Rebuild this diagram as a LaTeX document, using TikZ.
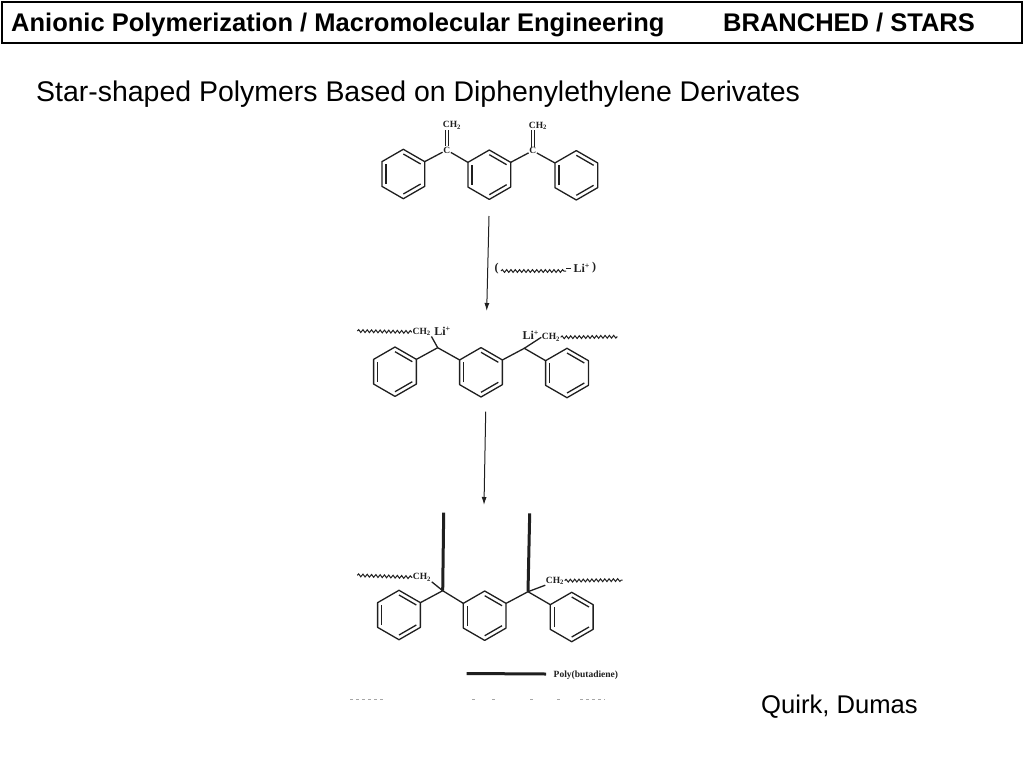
\documentclass[tikz,border=0pt]{standalone}
\usepackage{fontspec}
\setmainfont{Liberation Sans}
\newfontfamily\chemfont{Liberation Serif}
\usetikzlibrary{arrows.meta, calc, decorations.pathmorphing, positioning}
\definecolor{Ink}{gray}{0.12}
\tikzset{%
  header/.style={%
    anchor=base west,%
    inner sep=0pt,%
    font={\fontsize{25.5}{25.5}\selectfont\bfseries},%
  },
  heading/.style={%
    anchor=base west,%
    inner sep=0pt,%
    font={\fontsize{28.45}{28.45}\selectfont},%
  },
  credit/.style={%
    anchor=base west,%
    inner sep=0pt,%
    font={\fontsize{25.6}{25.6}\selectfont},%
  },
  bond/.style={%
    color=Ink,%
    line width=1.3pt,%
    line join=round,%
  },
  chain/.style={%
    color=Ink,%
    line width=3pt,%
  },
  wavy/.style={%
    color=Ink,%
    line width=1pt,%
    decorate,%
    decoration={snake, segment length=4.3pt, amplitude=1.4pt},%
  },
  step_arrow/.style={%
    color=Ink,%
    line width=1pt,%
    -{Latex[length=8pt, width=5pt]},%
  },
  atom/.style={%
    inner sep=0.5pt,%
    text=Ink,%
    font={\fontsize{9.5}{9.5}\chemfont\bfseries},%
  },
  ion/.style={%
    inner sep=0.5pt,%
    text=Ink,%
    font={\fontsize{12}{12}\chemfont\bfseries},%
  },
  scrap/.style={%
    color=black!35,%
    line width=0.7pt,%
    dashed,%
  },
}
\newcommand{\benzene}[1]{%
  \path[shift={(#1)}]
    (-30:24.7) coordinate (#1ur)
    (210:24.7) coordinate (#1ul);
  \draw[bond, shift={(#1)}]
    (-90:24.7) -- (-30:24.7) -- (30:24.7) -- (90:24.7) -- (150:24.7) -- (210:24.7) -- cycle;
  \foreach \a in {-90, 30, 150} {
    \draw[bond, shift={(#1)}] (\a:20) -- (\a+60:20);
  }
}
\begin{document}
\begin{tikzpicture}[x=1pt, y=-1pt]
    \useasboundingbox (0, 0) rectangle (1024, 768);

    % title bar
    \node[draw=black, line width=2pt, minimum width=1020pt, minimum height=41pt, inner sep=0pt,
      anchor=north west] (Bar) at (1, 1.5) {};
    \node[header] (Subject) at (11, 32) {Anionic Polymerization / Macromolecular Engineering};
    \node[header] (Topic) at (723, 32) {BRANCHED / STARS};
    \node[heading] (Heading) at (36, 101) {Star-shaped Polymers Based on Diphenylethylene Derivates};
    \node[credit] (Credit) at (761, 713) {Quirk, Dumas};

    % monomer
    \coordinate (TopA) at (403.3, 174);
    \coordinate (TopB) at (489.3, 174.7);
    \coordinate (TopC) at (576.3, 175.3);
    \benzene{TopA}
    \benzene{TopB}
    \benzene{TopC}
    \node[atom] (TopC1) at (446.7, 150) {C};
    \node[atom] (TopC2) at (532.7, 150.7) {C};
    \node[atom] (TopCH1) at (452, 125.5) {CH\textsubscript{2}};
    \node[atom] (TopCH2) at (538, 126) {CH\textsubscript{2}};
    \draw[bond] (TopC1) -- (TopAur);
    \draw[bond] (TopC1) -- (TopBul);
    \draw[bond] (TopC2) -- (TopBur);
    \draw[bond] (TopC2) -- (TopCul);
    \draw[bond, transform canvas={xshift=-1.5pt}] (TopC1.north) -- (TopC1.north |- TopCH1.south);
    \draw[bond, transform canvas={xshift=1.5pt}] (TopC1.north) -- (TopC1.north |- TopCH1.south);
    \draw[bond, transform canvas={xshift=-1.5pt}] (TopC2.north) -- (TopC2.north |- TopCH2.south);
    \draw[bond, transform canvas={xshift=1.5pt}] (TopC2.north) -- (TopC2.north |- TopCH2.south);

    % first step
    \coordinate (Step1a) at (489, 216);
    \coordinate (Step1b) at (486.7, 311);
    \draw[step_arrow] (Step1a) -- (Step1b);
    \node[ion, anchor=center] (ParenL) at (496.7, 269) {(};
    \node[ion, anchor=center] (ParenR) at (594, 268) {)};
    \node[ion, anchor=center] (ReagentLi) at (581.7, 268.5) {Li\textsuperscript{+}};
    \coordinate (ReagentA) at (501, 271);
    \coordinate (ReagentB) at (566, 271);
    \coordinate (ReagentC) at (571, 268);
    \draw[wavy] (ReagentA) -- (ReagentB);
    \draw[bond, line width=0.9pt] (ReagentB |- ReagentC) -- (ReagentC);

    % living intermediate
    \coordinate (MidA) at (395, 371.7);
    \coordinate (MidB) at (481, 372.3);
    \coordinate (MidC) at (567, 373);
    \benzene{MidA}
    \benzene{MidB}
    \benzene{MidC}
    \coordinate (MidC1) at (437.7, 347.7);
    \coordinate (MidC2) at (524.3, 348.3);
    \node[atom] (MidCH1) at (421.7, 332) {CH\textsubscript{2}};
    \node[atom] (MidCH2) at (551, 337.3) {CH\textsubscript{2}};
    \node[ion] (MidLi1) at (442.5, 331.5) {Li\textsuperscript{+}};
    \node[ion] (MidLi2) at (530.7, 335) {Li\textsuperscript{+}};
    \coordinate (MidTail1) at (357.3, 331);
    \coordinate (MidTail2) at (617.3, 336.7);
    \draw[wavy] (MidTail1) -- (MidCH1.west);
    \draw[wavy] (MidCH2.east) -- (MidTail2);
    \draw[bond] (MidC1) -- (MidAur);
    \draw[bond] (MidC1) -- (MidBul);
    \draw[bond] (MidC2) -- (MidBur);
    \draw[bond] (MidC2) -- (MidCul);
    \draw[bond] (MidC1) -- (MidCH1.south east);
    \draw[bond] (MidC2) -- (MidCH2.west);

    % second step
    \coordinate (Step2a) at (485.7, 411.7);
    \coordinate (Step2b) at (484, 505);
    \draw[step_arrow] (Step2a) -- (Step2b);

    % star product
    \coordinate (LowA) at (399, 615);
    \coordinate (LowB) at (484.7, 615.7);
    \coordinate (LowC) at (571.7, 617);
    \benzene{LowA}
    \benzene{LowB}
    \benzene{LowC}
    \coordinate (LowC1) at (442.7, 590.7);
    \coordinate (LowC2) at (528, 591.7);
    \coordinate (ArmEnd1) at (443.7, 512.7);
    \coordinate (ArmEnd2) at (529.7, 513.3);
    \node[atom] (LowCH1) at (422, 577.3) {CH\textsubscript{2}};
    \node[atom] (LowCH2) at (555, 580.7) {CH\textsubscript{2}};
    \coordinate (LowTail1) at (357.3, 575.3);
    \coordinate (LowTail2) at (622.7, 580);
    \draw[wavy] (LowTail1) -- (LowCH1.west);
    \draw[wavy] (LowCH2.east) -- (LowTail2);
    \draw[bond] (LowC1) -- (LowAur);
    \draw[bond] (LowC1) -- (LowBul);
    \draw[bond] (LowC2) -- (LowBur);
    \draw[bond] (LowC2) -- (LowCul);
    \draw[bond] (LowC1) -- (LowCH1.south east);
    \draw[bond] (LowC2) -- (LowCH2.south west);
    \draw[chain] (LowC1) -- (ArmEnd1);
    \draw[chain] (LowC2) -- (ArmEnd2);

    % legend
    \coordinate (KeyA) at (466.7, 673.5);
    \coordinate (KeyB) at (546, 674);
    \draw[chain] (KeyA) -- (KeyB);
    \node[atom, anchor=west] (KeyText) at (553, 675) {Poly(butadiene)};

    % cut-off scan line
    \foreach \from/\to in {350/383, 472/475, 492/495, 530/533, 557/560, 580/605} {
      \draw[scrap] (\from, 699.5) -- (\to, 699.5);
    }
  \end{tikzpicture}
\end{document}
